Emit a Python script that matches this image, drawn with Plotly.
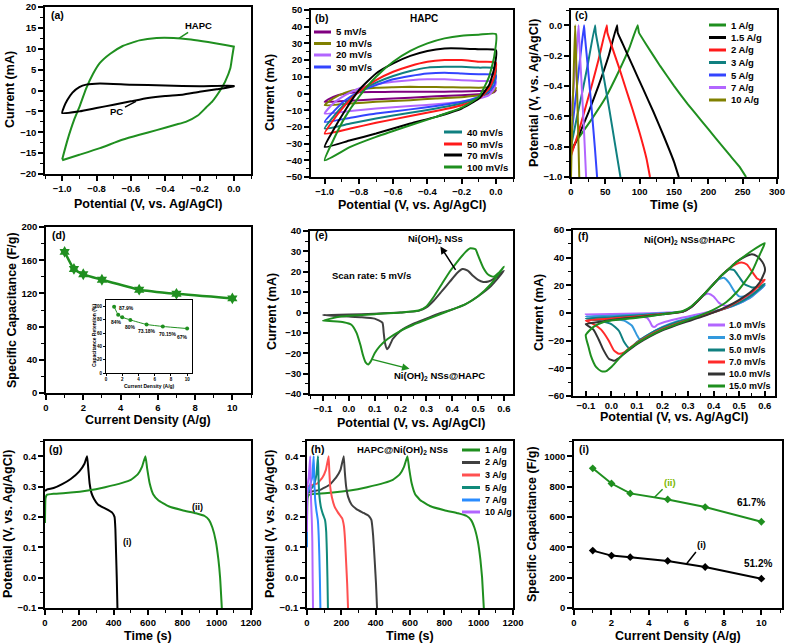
import plotly.graph_objects as go

W, H = 787, 644
FONT = "Liberation Sans, Arial, sans-serif"

# ---------------- DATA ----------------
# (a)
a_hapc_v = [-1.0, -0.97, -0.93, -0.9, -0.86, -0.82, -0.78, -0.72, -0.65, -0.55, -0.45, -0.35, -0.25, -0.15, -0.05, 0.0,
            0.0, -0.01, -0.02, -0.05, -0.08, -0.125, -0.16, -0.21, -0.28, -0.34, -0.45, -0.55, -0.65, -0.78, -0.9, -1.0]
a_hapc_i = [-16.5, -12, -7, -4, 0.5, 4, 6.6, 8.8, 10.6, 12, 12.6, 12.6, 12.2, 11.6, 10.9, 10.5,
            10.5, 8, 5.4, 2.2, 0, -2.6, -4, -6, -7.5, -8.2, -9.5, -10.6, -11.8, -13.8, -15.4, -16.7]
a_pc_v = [-1.0, -0.99, -0.97, -0.94, -0.9, -0.86, -0.78, -0.6, -0.4, -0.2, 0.0,
          0.0, -0.1, -0.2, -0.3, -0.4, -0.5, -0.6, -0.7, -0.8, -0.9, -1.0]
a_pc_i = [-5.4, -4, -2.3, -0.5, 0.8, 1.4, 1.7, 1.4, 1.2, 1.0, 1.1,
          1.0, 0.3, -0.3, -1.0, -1.3, -1.8, -2.6, -3.4, -4.2, -5.0, -5.4]

# (b) scan rates
b_names = ["5 mV/s", "10 mV/s", "20 mV/s", "30 mV/s", "40 mV/s", "50 mV/s", "70 mV/s", "100 mV/s"]
b_v_full = [-1.0, -0.95, -0.88, -0.8, -0.7, -0.6, -0.5, -0.4, -0.3, -0.2, -0.1, 0.0,
            -0.01, -0.04, -0.1, -0.2, -0.35, -0.5, -0.7, -0.85, -1.0]
b_i_100 = [-40, -28, -14, -2, 10, 19, 25.5, 30, 33, 34.6, 35.2, 35.6, 22, 10, -2, -8.5, -14, -19, -26, -32, -40]
b_i_70 = [-32, -22, -10, 2, 12, 18, 22.5, 25.5, 27, 27, 26.5, 26, 15, 5, -3, -9, -14, -18, -24, -28, -32]
b_i_50 = [-24, -16, -7, 1, 8, 13, 16.5, 19, 20, 20, 19, 18.5, 10, 3, -3, -7, -10.5, -13.5, -17.5, -21, -24]
b_i_40 = [-21, -14, -6, 1, 6.5, 10.5, 13.5, 15.5, 16, 16, 15.5, 15, 8, 2, -2.5, -6, -9, -11.5, -15, -18, -21]
b_i_30 = [-17, -11, -4, 1, 5, 8.5, 10.5, 12, 12.5, 12, 11.5, 11, 5, 1, -2, -5, -7.5, -9.5, -12, -14.5, -17]
b_i_20 = [-12, -6, -1, 3, 5.5, 7, 8, 8.5, 8.5, 8, 7.5, 7, 3, -1, -3, -5, -6.5, -7.5, -9, -10.5, -12]
b_i_10 = [-7, -3, 0.5, 2.5, 3.5, 3.8, 4, 3.9, 3.8, 3.6, 3.5, 3.5, 1.5, -0.5, -1.2, -2.2, -3, -4, -5, -6, -7]
b_i_5 = [-5, -2, 0, 0.8, 0.9, 1.0, 1.0, 1.0, 1.1, 1.2, 1.5, 2.0, 0.8, 0.2, -0.5, -1.0, -1.7, -2.5, -3.5, -4.3, -5]
b_currents = [b_i_5, b_i_10, b_i_20, b_i_30, b_i_40, b_i_50, b_i_70, b_i_100]
b_colors = ["#800080", "#808000", "#b266ff", "#3344ff", "#108080", "#ff1a1a", "#000000", "#1f8f1f"]

# (c) GCD of HAPC
c_names = ["1 A/g", "1.5 A/g", "2 A/g", "3 A/g", "5 A/g", "7 A/g", "10 A/g"]
c_colors = ["#1f8f1f", "#000000", "#ff1a1a", "#108080", "#3344ff", "#b266ff", "#808000"]
c_t = [
    [0, 10, 30, 50, 70, 85, 97, 99, 110, 130, 150, 170, 190, 210, 230, 245, 255],
    [0, 10, 25, 40, 55, 67, 68, 75, 90, 105, 120, 135, 150, 157],
    [0, 10, 20, 30, 40, 52, 53, 58, 70, 80, 90, 100, 110, 115],
    [0, 8, 16, 24, 35, 36, 40, 48, 56, 64, 72],
    [0, 5, 10, 15, 19, 20, 25, 30, 35, 38],
    [0, 4, 8, 11, 12, 15, 19, 22],
    [0, 2, 4, 6, 7, 9, 11, 12],
]
c_v = [
    [-0.82, -0.75, -0.62, -0.48, -0.3, -0.15, 0.0, -0.05, -0.13, -0.27, -0.4, -0.52, -0.63, -0.74, -0.85, -0.93, -1.0],
    [-0.84, -0.74, -0.58, -0.4, -0.2, 0.0, -0.05, -0.12, -0.27, -0.42, -0.57, -0.73, -0.9, -1.0],
    [-0.86, -0.72, -0.56, -0.4, -0.23, 0.0, -0.05, -0.12, -0.28, -0.42, -0.56, -0.71, -0.88, -1.0],
    [-0.8, -0.62, -0.45, -0.27, 0.0, -0.05, -0.15, -0.35, -0.56, -0.78, -1.0],
    [-0.75, -0.55, -0.35, -0.15, 0.0, -0.06, -0.3, -0.55, -0.82, -1.0],
    [-0.6, -0.4, -0.18, 0.0, -0.1, -0.35, -0.7, -1.0],
    [-1.0, -0.6, -0.3, 0.0, -0.15, -0.45, -0.8, -1.0],
]

# (d) specific capacitance of HAPC and retention inset
d_current = [1, 1.5, 2, 3, 5, 7, 10]
d_capacitance = [170, 149.5, 143, 136.5, 124.5, 119.5, 114]
d_retention = [100, 87.9, 84, 80, 73.18, 70.15, 67]
d_ret_labels = ["87.9%", "84%", "80%", "73.18%", "70.15%", "67%"]

# (e) CV at 5 mV/s
e_ni_v = [-0.1, 0.0, 0.1, 0.2, 0.27, 0.3, 0.33, 0.36, 0.39, 0.42, 0.44, 0.46, 0.48, 0.5, 0.52, 0.54, 0.56, 0.58, 0.6,
          0.55, 0.5, 0.45, 0.4, 0.35, 0.3, 0.25, 0.2, 0.17, 0.155, 0.148, 0.14, 0.135, 0.13, 0.1, 0.05, 0.0, -0.05, -0.1]
e_ni_i = [-1.2, -1.0, -0.6, 0, 0.8, 2.5, 6, 10.5, 15, 19.5, 21.3, 20.5, 18, 16, 15, 15.2, 16.5, 18.5, 20.5,
          13, 8, 4, 1.5, -0.5, -3, -5.5, -9, -13, -17, -18, -15, -10, -5, -3, -2.3, -2, -1.7, -1.2]
e_hapc_v = [-0.1, -0.07, -0.03, 0.0, 0.1, 0.2, 0.27, 0.3, 0.33, 0.36, 0.39, 0.42, 0.45, 0.47, 0.49, 0.5, 0.52, 0.54, 0.56, 0.58, 0.6,
            0.55, 0.5, 0.45, 0.4, 0.35, 0.3, 0.25, 0.2, 0.15, 0.12, 0.1, 0.085, 0.075, 0.065, 0.055, 0.045, 0.03, 0.01, -0.02, -0.06, -0.1]
e_hapc_i = [-4, -3, -2, -1.6, -0.8, 0, 1, 3, 8, 14, 20, 25, 29.5, 31.5, 31, 28, 22, 18.5, 17.5, 19.5, 22.5,
            14, 8, 4, 1.5, -1, -3.5, -6, -9, -13, -16.5, -20, -24, -25.5, -24.5, -21, -16, -10, -6, -4.8, -4.3, -4]

# (f) CV of Ni(OH)2 NSs@HAPC
f_names = ["1.0 mV/s", "3.0 mV/s", "5.0 mV/s", "7.0 mV/s", "10.0 mV/s", "15.0 mV/s"]
f_colors = ["#b266ff", "#3399dd", "#108080", "#ff2a2a", "#333333", "#1f8f1f"]
f_v = [
    [-0.1, 0.0, 0.1, 0.2, 0.28, 0.31, 0.34, 0.36, 0.38, 0.4, 0.42, 0.44, 0.46, 0.5, 0.55, 0.6,
     0.55, 0.5, 0.45, 0.4, 0.35, 0.3, 0.25, 0.2, 0.18, 0.17, 0.16, 0.15, 0.14, 0.12, 0.08, 0.0, -0.1],
    [-0.1, 0.0, 0.1, 0.2, 0.28, 0.31, 0.34, 0.37, 0.4, 0.42, 0.44, 0.46, 0.48, 0.5, 0.53, 0.56, 0.6,
     0.55, 0.5, 0.45, 0.4, 0.35, 0.3, 0.25, 0.2, 0.15, 0.12, 0.11, 0.1, 0.08, 0.05, 0.0, -0.05, -0.1],
    [-0.1, 0.0, 0.1, 0.2, 0.28, 0.31, 0.34, 0.37, 0.4, 0.43, 0.46, 0.48, 0.5, 0.52, 0.55, 0.58, 0.6,
     0.55, 0.5, 0.45, 0.4, 0.35, 0.3, 0.25, 0.2, 0.15, 0.1, 0.08, 0.07, 0.05, 0.03, 0.0, -0.05, -0.1],
    [-0.1, 0.0, 0.1, 0.2, 0.28, 0.31, 0.34, 0.37, 0.4, 0.43, 0.46, 0.49, 0.51, 0.53, 0.55, 0.57, 0.59, 0.6,
     0.55, 0.5, 0.45, 0.4, 0.35, 0.3, 0.25, 0.2, 0.15, 0.1, 0.07, 0.05, 0.03, 0.01, -0.01, -0.04, -0.07, -0.1],
    [-0.1, -0.05, 0.0, 0.1, 0.2, 0.28, 0.31, 0.34, 0.37, 0.4, 0.43, 0.46, 0.49, 0.52, 0.55, 0.57, 0.59, 0.6, 0.6,
     0.58, 0.55, 0.5, 0.45, 0.4, 0.35, 0.3, 0.25, 0.2, 0.15, 0.1, 0.06, 0.03, 0.01, -0.01, -0.03, -0.05, -0.07, -0.1],
    [-0.1, -0.07, -0.03, 0.0, 0.1, 0.2, 0.28, 0.31, 0.34, 0.37, 0.4, 0.43, 0.46, 0.49, 0.52, 0.55, 0.58, 0.6,
     0.59, 0.57, 0.55, 0.52, 0.49, 0.45, 0.4, 0.35, 0.3, 0.25, 0.2, 0.15, 0.1, 0.05, 0.02, 0.0, -0.02, -0.04, -0.06, -0.08, -0.09, -0.1],
]
f_i = [
    [-1, -0.8, -0.4, 0.2, 1, 4, 9, 12.5, 14, 12, 7.5, 5.5, 5.5, 8.5, 13, 20,
     12, 7, 3.5, 1.5, -0.5, -2.5, -4.5, -7, -8.5, -10, -9.5, -6, -3.5, -2.5, -2, -1.5, -1],
    [-2.5, -2, -1.2, -0.2, 1, 4, 9, 15, 21, 24.5, 25.5, 22, 16, 12, 12.5, 15, 20,
     12, 7, 3.5, 1, -1.5, -4, -6.5, -10, -15, -18.5, -19, -16, -9, -5.5, -4, -3.2, -2.5],
    [-4, -3, -1.8, -0.5, 1, 4, 9, 15, 21, 27, 31.5, 31, 26, 21, 18.5, 19, 21,
     13, 7.5, 3.5, 0.5, -2, -4.5, -7, -10.5, -15, -21, -24.5, -25.5, -21, -13, -8, -5.5, -4],
    [-5.5, -4, -2.5, -0.8, 1, 4, 9, 15, 21, 27, 32, 35.5, 36.5, 35, 30, 25, 23.5, 24,
     15, 9, 4, 0.5, -2.5, -5, -8, -11.5, -16, -21.5, -25.5, -28.5, -29.5, -27, -20, -12, -8, -5.5],
    [-8, -6.5, -5, -3, -1, 1, 4, 9, 15, 21, 27, 32, 37, 40.5, 42.5, 41, 37, 33, 30,
     22, 16, 9.5, 4.5, 0.5, -3, -6, -9, -12.5, -17, -22.5, -28, -32.5, -34.5, -33, -27, -19, -12, -8],
    [-16, -10, -6.5, -5.5, -3.5, -1, 1.5, 4.5, 9.5, 15, 21, 27, 32, 37, 41, 45, 48.5, 50.5,
     46, 38, 30, 22, 15, 8, 2.5, -1.5, -5, -8.5, -12, -16.5, -22, -29, -35, -39, -42, -42, -39, -31, -24, -16],
]

# (g) GCD at 1 A/g: (i) Ni(OH)2 NSs, (ii) Ni(OH)2 NSs@HAPC
g_i_t = [0, 10, 50, 100, 150, 200, 230, 245, 252, 260, 270, 285, 310, 350, 390, 405, 410, 414, 418, 422]
g_i_v = [0.285, 0.29, 0.295, 0.308, 0.325, 0.35, 0.375, 0.4, 0.36, 0.31, 0.28, 0.26, 0.24, 0.228, 0.215, 0.2, 0.16, 0.08, 0.0, -0.1]
g_ii_t = [0, 3, 10, 50, 150, 250, 350, 450, 500, 540, 565, 585, 595, 610, 630, 660, 720, 800, 880, 930, 955, 975, 995, 1010, 1020, 1030]
g_ii_v = [0.18, 0.26, 0.272, 0.276, 0.28, 0.287, 0.298, 0.312, 0.322, 0.34, 0.365, 0.4, 0.36, 0.31, 0.275, 0.255, 0.235, 0.222, 0.212, 0.203, 0.19, 0.165, 0.12, 0.06, 0.0, -0.1]

# (h) GCD of HAPC@Ni(OH)2 NSs
h_names = ["1 A/g", "2 A/g", "3 A/g", "5 A/g", "7 A/g", "10 A/g"]
h_colors = ["#1f8f1f", "#404040", "#ff5050", "#108a7a", "#2a8cff", "#b266ff"]
h_t = [
    g_ii_t,
    [0, 5, 40, 80, 130, 170, 195, 214, 220, 228, 240, 260, 290, 330, 360, 375, 385, 395, 402, 408],
    [0, 3, 30, 60, 90, 110, 126, 130, 135, 145, 160, 180, 205, 215, 222, 228, 234, 239],
    [0, 2, 20, 40, 55, 64, 67, 72, 80, 92, 105, 112, 116, 119, 122],
    [0, 2, 15, 30, 39, 42, 47, 55, 63, 68, 72, 75, 78],
    [0, 2, 10, 19, 21, 24, 28, 31, 33, 35],
]
h_v = [
    g_ii_v,
    [0.27, 0.28, 0.285, 0.29, 0.305, 0.33, 0.355, 0.4, 0.35, 0.3, 0.265, 0.24, 0.225, 0.213, 0.203, 0.19, 0.14, 0.05, -0.02, -0.1],
    [0.22, 0.3, 0.305, 0.31, 0.33, 0.355, 0.4, 0.35, 0.3, 0.265, 0.235, 0.215, 0.195, 0.17, 0.12, 0.05, -0.02, -0.1],
    [0.2, 0.28, 0.29, 0.305, 0.34, 0.4, 0.33, 0.27, 0.235, 0.21, 0.19, 0.15, 0.08, 0.0, -0.1],
    [0.1, 0.28, 0.3, 0.33, 0.4, 0.33, 0.26, 0.22, 0.19, 0.14, 0.07, 0.0, -0.1],
    [0.15, 0.3, 0.33, 0.4, 0.32, 0.25, 0.19, 0.12, 0.0, -0.1],
]

# (i) specific capacitance
i_current = [1, 2, 3, 5, 7, 10]
i_cap_ii = [920, 820, 755, 715, 665, 568]
i_cap_i = [378, 345, 335, 310, 270, 193]

# ---------------- HELPERS ----------------
def px(x):
    return x / W

def py(y):
    return 1 - y / H

def axid(k):
    return ("x", "y") if k == 1 else (f"x{k}", f"y{k}")

fig = go.Figure()

def add_line(k, x, y, color, width=2, shape="spline", smoothing=0.5, mode="lines", marker=None):
    xa, ya = axid(k)
    line = dict(color=color, width=width, shape=shape)
    if shape == "spline":
        line["smoothing"] = smoothing
    tr = go.Scatter(x=x, y=y, mode=mode, xaxis=xa, yaxis=ya, showlegend=False, line=line)
    if marker:
        tr.marker = marker
    fig.add_trace(tr)

GREEN = "#1f8f1f"

add_line(1, a_hapc_v, a_hapc_i, GREEN)
add_line(1, a_pc_v, a_pc_i, "#000000")
for cur, col in zip(b_currents, b_colors):
    add_line(2, b_v_full, cur, col)
for t, v, col in zip(c_t, c_v, c_colors):
    add_line(3, t, v, col, smoothing=0.3)
add_line(4, d_current, d_capacitance, GREEN, width=2.5, mode="lines+markers",
         marker=dict(symbol="hexagram", size=9, color=GREEN))
add_line(10, d_current, d_retention, GREEN, width=1, mode="lines+markers",
         marker=dict(symbol="circle", size=4, color=GREEN))
add_line(5, e_ni_v, e_ni_i, "#404040")
add_line(5, e_hapc_v, e_hapc_i, GREEN)
for v, i, col in zip(f_v, f_i, f_colors):
    add_line(6, v, i, col)
add_line(7, g_i_t, g_i_v, "#000000", smoothing=0.4)
add_line(7, g_ii_t, g_ii_v, GREEN, smoothing=0.4)
for t, v, col in zip(h_t, h_v, h_colors):
    add_line(8, t, v, col, smoothing=0.3)
add_line(9, i_current, i_cap_ii, GREEN, shape="linear", mode="lines+markers",
         marker=dict(symbol="diamond", size=6, color=GREEN))
add_line(9, i_current, i_cap_i, "#000000", shape="linear", mode="lines+markers",
         marker=dict(symbol="diamond", size=6, color="#000000"))

# ---------------- AXES ----------------
POT = "Potential (V, vs. Ag/AgCl)"
CUR = "Current (mA)"
CD = "Current Density (A/g)"
SC = "Specific Capacitance (F/g)"
# xd/yd: frame in px; xtp/ytp: axis-title centres in px
panels = {
    1: dict(xd=(45, 251), yd=(7, 174), xr=[-1.1, 0.1], yr=[-20, 20], xdt=0.2, ydt=5, xf=".1f", yf="", xt=POT, yt=CUR, xtp=(148, 204), ytp=(10, 90)),
    2: dict(xd=(311, 513), yd=(10, 177), xr=[-1.08, 0.1], yr=[-50, 50], xdt=0.2, ydt=10, xf=".1f", yf="", xt=POT, yt=CUR, xtp=(412, 205), ytp=(270, 93)),
    3: dict(xd=(571, 777), yd=(10, 177), xr=[0, 300], yr=[-1.0, 0.1], xdt=50, ydt=0.2, xf="", yf=".1f", xt="Time (s)", yt=POT, xtp=(674, 205), ytp=(534, 93)),
    4: dict(xd=(46, 251), yd=(227, 393), xr=[0, 11], yr=[0, 200], xdt=2, ydt=40, xf="", yf="", xt=CD, yt=SC, xtp=(148, 420), ytp=(12, 310)),
    5: dict(xd=(310, 513), yd=(231, 394), xr=[-0.15, 0.635], yr=[-40, 40], xdt=0.1, ydt=10, xf=".1f", yf="", xt=POT, yt=CUR, xtp=(411, 423), ytp=(272, 312)),
    6: dict(xd=(573, 775), yd=(230, 396), xr=[-0.15, 0.64], yr=[-60, 60], xdt=0.1, ydt=20, xf=".1f", yf="", xt=POT, yt=CUR, xtp=(674, 417), ytp=(539, 313)),
    7: dict(xd=(45, 251), yd=(441, 608), xr=[0, 1200], yr=[-0.1, 0.45], xdt=200, ydt=0.1, xf="", yf=".1f", xt="Time (s)", yt=POT, xtp=(148, 636), ytp=(8, 524)),
    8: dict(xd=(307, 513), yd=(441, 608), xr=[0, 1200], yr=[-0.1, 0.45], xdt=200, ydt=0.1, xf="", yf=".1f", xt="Time (s)", yt=POT, xtp=(410, 636), ytp=(270, 524)),
    9: dict(xd=(574, 782), yd=(441, 608), xr=[0, 11.1], yr=[0, 1100], xdt=2, ydt=200, xf="", yf="", xt=CD, yt=SC, xtp=(678, 636), ytp=(532, 524)),
    10: dict(xd=(106, 192), yd=(300, 373), xr=[0, 10.6], yr=[0, 110], xdt=2, ydt=20, xf="", yf="", xt=CD, yt="Capacitance Retention (%)", xtp=(149, 386), ytp=(94, 336)),
}

ann = []
shapes = []

def text_px(x, y, text, size=10, color="black", xanchor="center", angle=0):
    ann.append(dict(x=px(x), y=py(y), xref="paper", yref="paper", text=text, showarrow=False,
                    xanchor=xanchor, yanchor="middle", textangle=angle,
                    font=dict(family=FONT, size=size, color=color, weight="bold")))

layout_axes = {}
for k, p in panels.items():
    inset = (k == 10)
    tfs = 4.5 if inset else 9.5
    ttl = 5 if inset else 12.5
    lw = 1 if inset else 1.6
    tl = 2 if inset else 5
    common = dict(showgrid=False, zeroline=False, showline=True, mirror=True, linecolor="black",
                  linewidth=lw, ticks="outside", ticklen=tl, tickwidth=lw, tickcolor="black",
                  tickfont=dict(family=FONT, size=tfs, color="black", weight="bold"),
                  automargin=False)
    xa = dict(common, domain=[px(p["xd"][0]), px(p["xd"][1])], range=p["xr"], dtick=p["xdt"], tick0=0,
              tickformat=p["xf"])
    ya = dict(common, domain=[py(p["yd"][1]), py(p["yd"][0])], range=p["yr"], dtick=p["ydt"], tick0=0,
              tickformat=p["yf"])
    if not inset:
        mn = dict(ticks="outside", ticklen=3, tickwidth=1.2, tickcolor="black", showgrid=False)
        xa["minor"] = dict(mn, dtick=p["xdt"] / 2)
        ya["minor"] = dict(mn, dtick=p["ydt"] / 2)
    if k == 6:
        xa["ticks"] = "inside"
        xa["minor"]["ticks"] = "inside"
    xid, yid = axid(k)
    xa["anchor"] = yid
    ya["anchor"] = xid
    layout_axes["xaxis" if k == 1 else f"xaxis{k}"] = xa
    layout_axes["yaxis" if k == 1 else f"yaxis{k}"] = ya
    # axis titles as text
    text_px(p["xtp"][0], p["xtp"][1], p["xt"], size=ttl)
    text_px(p["ytp"][0], p["ytp"][1], p["yt"], size=ttl, angle=-90)

fig.update_layout(**layout_axes)

# panel letters
for lab, (lx, ly) in zip(["(a)", "(b)", "(c)", "(d)", "(e)", "(f)", "(g)", "(h)", "(i)"],
                         [(49, 15), (313, 18), (573, 15), (50, 235), (313, 235), (576, 236), (47, 449), (309, 449), (577, 449)]):
    text_px(lx, ly, lab, size=10.5, xanchor="left")

# (a) labels with leader lines
ann.append(dict(x=-0.32, y=12.5, xref="x", yref="y", text="HAPC", showarrow=True, arrowhead=0,
                arrowwidth=1.5, arrowcolor=GREEN, ax=20, ay=-13,
                font=dict(family=FONT, size=9.5, color="black", weight="bold")))
ann.append(dict(x=-0.57, y=-2.6, xref="x", yref="y", text="PC", showarrow=True, arrowhead=0,
                arrowwidth=1.5, arrowcolor="black", ax=-19, ay=10,
                font=dict(family=FONT, size=9.5, color="black", weight="bold")))

# titles inside panels
text_px(424, 19, "HAPC", size=10)
text_px(402, 450, "HAPC@Ni(OH)<sub>2</sub> NSs", size=9.5)
text_px(689, 240, "Ni(OH)<sub>2</sub> NSs@HAPC", size=9.5)

# (e)
text_px(371, 275, "Scan rate: 5 mV/s", size=9.5)
ann.append(dict(x=0.413, y=20.9, xref="x5", yref="y5", ax=-20, ay=-31,
                text="Ni(OH)<sub>2</sub> NSs", showarrow=True, arrowhead=0, arrowside="start",
                startarrowhead=2, startarrowsize=1, arrowwidth=1.5, arrowcolor="black",
                font=dict(family=FONT, size=9.5, color="black", weight="bold")))
ann.append(dict(x=0.09, y=-23, xref="x5", yref="y5", ax=67, ay=17,
                text="Ni(OH)<sub>2</sub> NSs@HAPC", showarrow=True, arrowhead=0, arrowside="start",
                startarrowhead=2, startarrowsize=1, arrowwidth=1.5, arrowcolor=GREEN,
                font=dict(family=FONT, size=9.5, color="black", weight="bold")))

# (d) inset labels, placed next to their points
ret_shifts = [(8, 7), (-6, -5), (0, -7), (0, -7), (5, -8), (-5, -8)]
for j, (lab, (sx, sy)) in enumerate(zip(d_ret_labels, ret_shifts)):
    ann.append(dict(x=d_current[j + 1], y=d_retention[j + 1], xref="x10", yref="y10", text=lab,
                    showarrow=False, xshift=sx, yshift=sy,
                    font=dict(family=FONT, size=5, color="black", weight="bold")))

# (g) labels
ann.append(dict(x=478, y=0.117, xref="x7", yref="y7", text="(i)", showarrow=False,
                font=dict(family=FONT, size=9, color="black", weight="bold")))
ann.append(dict(x=891, y=0.233, xref="x7", yref="y7", text="(ii)", showarrow=False,
                font=dict(family=FONT, size=9, color="black", weight="bold")))

# (i) labels
ann.append(dict(x=i_current[-1], y=i_cap_ii[-1], xref="x9", yref="y9", text="61.7%", showarrow=False,
                xshift=-10, yshift=19, font=dict(family=FONT, size=10, color="black", weight="bold")))
ann.append(dict(x=i_current[-1], y=i_cap_i[-1], xref="x9", yref="y9", text="51.2%", showarrow=False,
                xshift=-3, yshift=15, font=dict(family=FONT, size=10, color="black", weight="bold")))
ann.append(dict(x=4.3, y=729, xref="x9", yref="y9", text="(ii)", showarrow=True, arrowhead=0,
                arrowwidth=1.5, arrowcolor=GREEN, ax=15, ay=-15,
                font=dict(family=FONT, size=9.5, color="#7bb800", weight="bold")))
ann.append(dict(x=6.0, y=290, xref="x9", yref="y9", text="(i)", showarrow=True, arrowhead=0,
                arrowwidth=1.5, arrowcolor="black", ax=15, ay=-19,
                font=dict(family=FONT, size=9.5, color="black", weight="bold")))

# manual legends (line sample + text)
def legend(names, colors, x0, x1, xt, ys, size=9.5):
    for n, c, yy in zip(names, colors, ys):
        shapes.append(dict(type="line", xref="paper", yref="paper", x0=px(x0), x1=px(x1), y0=py(yy), y1=py(yy),
                           line=dict(color=c, width=3)))
        text_px(xt, yy, n, size=size, xanchor="left")

legend(b_names[:4], b_colors[:4], 314, 331, 334, [32, 43.5, 55, 67])
legend(b_names[4:], b_colors[4:], 444, 462, 465, [132, 144, 155, 167])
legend(c_names, c_colors, 709, 726, 729, [25, 37.5, 50, 62.5, 75, 87.5, 100])
legend(f_names, f_colors, 708, 725, 727, [325, 337.5, 350, 362, 374, 386], size=9)
legend(h_names, h_colors, 462, 480, 483, [450, 462.5, 475, 487.5, 500, 512], size=9)

fig.update_layout(width=W, height=H, margin=dict(l=0, r=0, t=0, b=0),
                  paper_bgcolor="white", plot_bgcolor="rgba(0,0,0,0)",
                  annotations=ann, shapes=shapes, showlegend=False,
                  font=dict(family=FONT, color="black"))

# remove the browser's default 8px page margin so the figure fills the window exactly
fig.write_html("out.html", config={"displayModeBar": False},
               post_script="document.body.style.margin='0';")
